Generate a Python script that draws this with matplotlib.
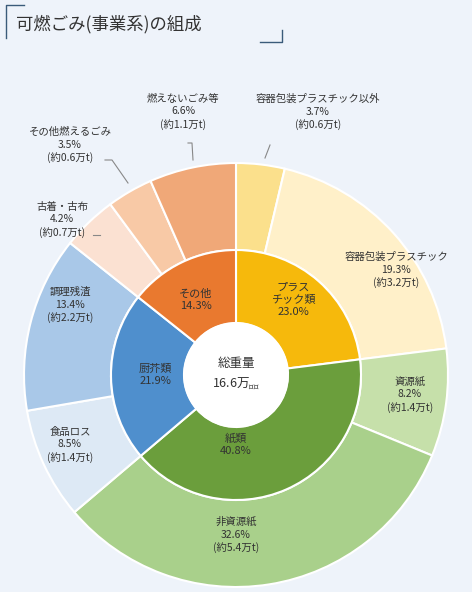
import matplotlib.pyplot as plt

plt.rcParams['font.family'] = ['Noto Sans CJK JP', 'DejaVu Sans']

# inner ring
inner_labels = ["プラス\nチック類", "紙類", "厨芥類", "その他"]
inner_values = [23.0, 40.8, 21.9, 14.3]
inner_colors = ["#f6b90c", "#6b9e3c", "#4f8fcd", "#e9792f"]

# outer ring
outer_labels = ["容器包装プラスチック以外", "容器包装プラスチック", "資源紙", "非資源紙",
                "食品ロス", "調理残渣", "古着・古布", "その他燃えるごみ", "燃えないごみ等"]
outer_values = [3.7, 19.3, 8.2, 32.6, 8.5, 13.4, 4.2, 3.5, 6.6]
outer_tons = ["0.6", "3.2", "1.4", "5.4", "1.4", "2.2", "0.7", "0.6", "1.1"]
outer_colors = ["#fbe08c", "#fff0c9", "#c6e0aa", "#a9d08b", "#dde9f5", "#a9c8e8",
                "#fbe1d2", "#f8c9a6", "#f0a878"]

W, H = 472, 592
fig = plt.figure(figsize=(W / 100, H / 100), dpi=100)
fig.patch.set_facecolor("#eef3fa")
ax = fig.add_axes([0, 0, 1, 1])
ax.set_xlim(0, W)
ax.set_ylim(0, H)
ax.axis("off")

cx, cy = 236, H - 375
wp = dict(edgecolor="white", linewidth=1.5)
ax.pie(outer_values, colors=outer_colors, startangle=90, counterclock=False,
       radius=212, center=(cx, cy), wedgeprops=dict(width=87, **wp), frame=True)
ax.pie(inner_values, colors=inner_colors, startangle=90, counterclock=False,
       radius=125, center=(cx, cy), wedgeprops=dict(width=73, **wp), frame=True)
ax.add_patch(plt.Circle((cx, cy), 52, color="white"))
ax.set_xlim(0, W)
ax.set_ylim(0, H)
ax.set_aspect("equal")
ax.axis("off")

txt = "#333333"
# center
ax.text(cx, cy + 12, "総重量", ha="center", va="center", fontsize=9, color=txt)
ax.text(cx, cy - 8, "16.6万$_{トン}$", ha="center", va="center", fontsize=9, color=txt)

# inner labels
inner_pos = [(293, 300), (236, 445), (155, 375), (196, 300)]
for (x, y), lab, v in zip(inner_pos, inner_labels, inner_values):
    ax.text(x, H - y, f"{lab}\n{v:.1f}%", ha="center", va="center", fontsize=8,
            color=txt, linespacing=1.25)

# outer labels
outer_pos = [(318, 112), (396, 270), (410, 395), (236, 535), (70, 445),
             (70, 305), (62, 220), (70, 145), (183, 112)]
for (x, y), lab, v, t in zip(outer_pos, outer_labels, outer_values, outer_tons):
    ax.text(x, H - y, f"{lab}\n{v:.1f}%\n(約{t}万t)", ha="center", va="center",
            fontsize=7.5, color=txt, linespacing=1.3)

# leader lines
leaders = [[(270, 145), (265, 158)],
           [(188, 143), (192, 143), (193, 160)],
           [(105, 160), (112, 160), (128, 183)],
           [(93, 235), (100, 235)]]
for pts in leaders:
    ax.plot([p[0] for p in pts], [H - p[1] for p in pts], color="#888888", lw=0.8)

# title with brackets
ax.text(16, H - 24, "可燃ごみ(事業系)の組成", ha="left", va="center", fontsize=12.5, color="#333333")
ax.plot([6, 6, 24], [H - 38, H - 5, H - 5], color="#3a5b7a", lw=1)
ax.plot([260, 282, 282], [H - 42, H - 42, H - 30], color="#3a5b7a", lw=1)

fig.savefig("out.png", dpi=100, facecolor=fig.get_facecolor())
